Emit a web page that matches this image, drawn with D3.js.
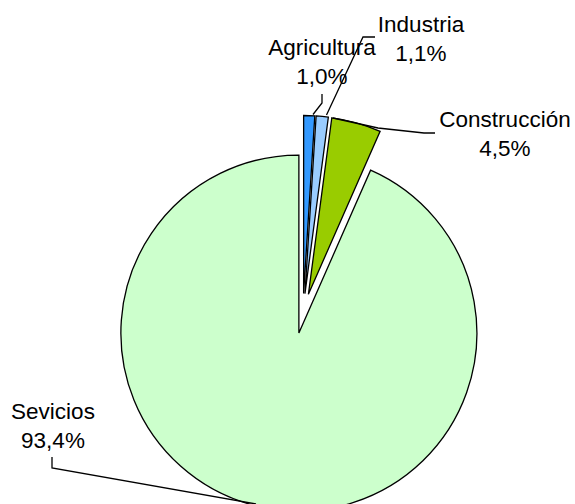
<!DOCTYPE html>
<html>
<head>
<meta charset="utf-8">
<script src="https://cdn.jsdelivr.net/npm/d3@7/dist/d3.min.js"></script>
<style>
  html, body { margin: 0; padding: 0; background: #fff; }
  svg { display: block; }
  text { font-family: "Liberation Sans", Arial, sans-serif; font-size: 22.5px; fill: #000; }
</style>
</head>
<body>
<svg id="chart" width="575" height="504"></svg>
<script>
// ---- data ----
const categories = ["Agricultura", "Industria", "Construcción", "Sevicios"];
const values = [1.0, 1.1, 4.5, 93.4];
const valueLabels = ["1,0%", "1,1%", "4,5%", "93,4%"];
const colors = ["#3399FF", "#99CCFF", "#99CC00", "#CCFFCC"];

// ---- layout ----
const W = 575, H = 504;
const cx = 303, cy = 313.5, R = 178, explode = 20;
const labelPos = [
  { x: 322, y: 55 },
  { x: 421, y: 32 },
  { x: 505, y: 127 },
  { x: 53, y: 419 }
];
const lineGap = 29;
const leaders = [
  [[322, 94], [322, 103], [313, 114.5]],
  [[375, 37], [363, 37], [326.5, 115]],
  [[333, 118], [378, 128], [424, 133], [435, 133]],
  [[52, 457], [52, 468], [256, 504]]
];

const svg = d3.select("#chart");
const g = svg.append("g").attr("transform", `translate(${cx},${cy})`);

const pie = d3.pie().sort(null).value(d => d).startAngle(0).endAngle(2 * Math.PI);
const arcs = pie(values);
const arc = d3.arc().innerRadius(0).outerRadius(R);

g.selectAll("path.slice")
  .data(arcs)
  .join("path")
  .attr("class", "slice")
  .attr("d", arc)
  .attr("fill", (d, i) => colors[i])
  .attr("stroke", "#000")
  .attr("stroke-width", 1.3)
  .attr("stroke-linejoin", "miter")
  .attr("transform", d => {
    const a = (d.startAngle + d.endAngle) / 2;
    return `translate(${Math.sin(a) * explode},${-Math.cos(a) * explode})`;
  });

const line = d3.line();
svg.selectAll("path.leader")
  .data(leaders)
  .join("path")
  .attr("class", "leader")
  .attr("d", d => line(d))
  .attr("fill", "none")
  .attr("stroke", "#000")
  .attr("stroke-width", 1.3);

const lbl = svg.selectAll("g.lbl")
  .data(categories)
  .join("g")
  .attr("class", "lbl");
lbl.append("text")
  .attr("x", (d, i) => labelPos[i].x)
  .attr("y", (d, i) => labelPos[i].y)
  .attr("text-anchor", "middle")
  .text(d => d);
lbl.append("text")
  .attr("x", (d, i) => labelPos[i].x)
  .attr("y", (d, i) => labelPos[i].y + lineGap)
  .attr("text-anchor", "middle")
  .text((d, i) => valueLabels[i]);
</script>
</body>
</html>
